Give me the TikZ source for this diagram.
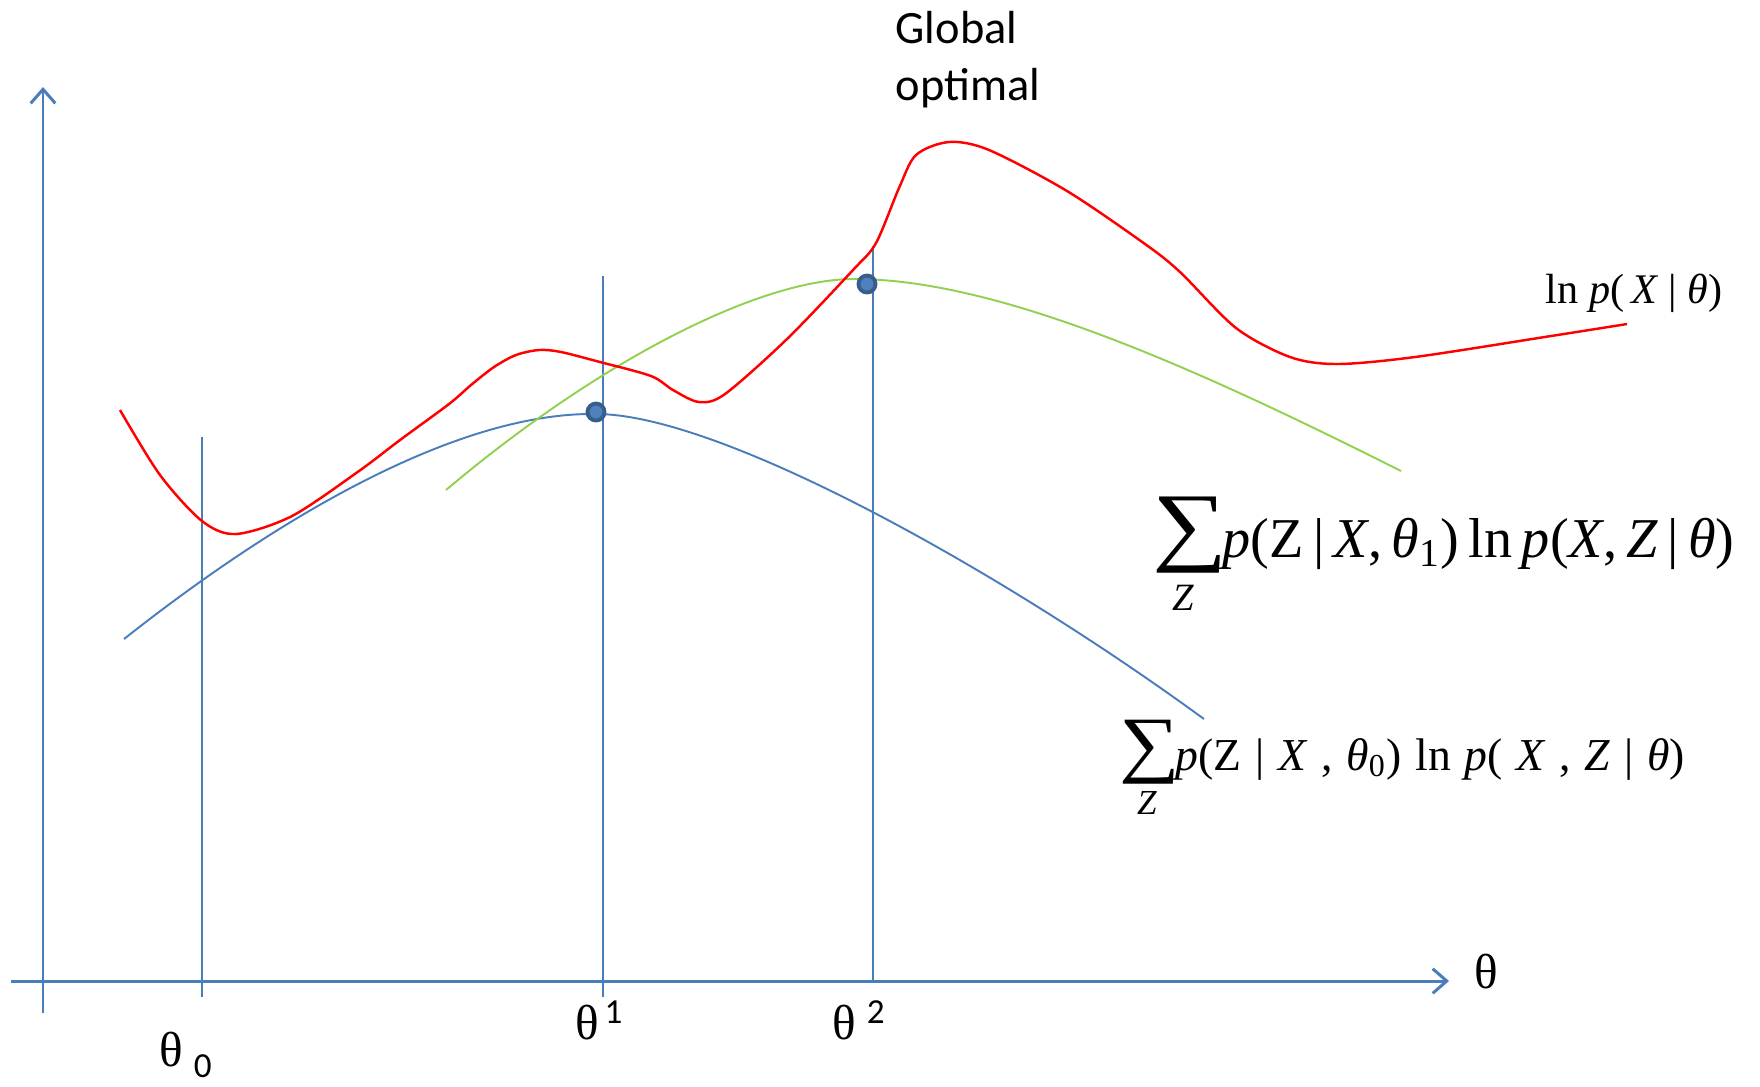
\documentclass[tikz,border=0pt]{standalone}
\usepackage{fontspec}
\setmainfont{Liberation Serif}
\newfontfamily\calibri{Carlito}
\usetikzlibrary{arrows.meta}
\definecolor{axisblue}{HTML}{4A7EBB}
\definecolor{dotblue}{HTML}{4F81BD}
\definecolor{dotedge}{HTML}{385D8A}
\definecolor{lemgreen}{HTML}{92D050}
\newcommand{\fsp}{\hspace{0.3em}}
\newcommand{\supfont}{\calibri\fontsize{10}{10}\selectfont}
\begin{document}
\begin{tikzpicture}[x=0.1mm,y=-0.1mm,
    axis/.style={axisblue,line width=0.85pt,-{Straight Barb[length=4pt,width=7pt]}},
    guide/.style={axisblue,line width=0.5pt},
    curve/.style={line width=0.55pt},
    optpoint/.style={circle,fill=dotblue,draw=dotedge,line width=1.1pt,minimum size=1.7mm,inner sep=0pt},
    lbl/.style={inner sep=0pt,anchor=base west,font=\fontsize{14}{14}\selectfont}]
    \useasboundingbox (0,0) rectangle (1760,1086);
    \coordinate (ybot) at (43,1013);
    \coordinate (ytop) at (43,87);
    \coordinate (xleft) at (11,981);
    \coordinate (xright) at (1449,981);
    \draw[axis] (ybot) -- (ytop);
    \draw[axis] (xleft) -- (xright);
    \draw[guide] (202,437) -- (202,997);
    \draw[guide] (603,276) -- (603,997);
    \draw[guide,line width=0.4pt] (873,246) -- (873,981);
    \draw[curve,axisblue] (124,639) .. controls (300,500) and (470,412) .. (596,414)
        .. controls (720,414) and (1000,570) .. (1204,719);
    \draw[curve,lemgreen] (446,490) .. controls (600,360) and (760,279) .. (854,279)
        .. controls (1000,279) and (1200,370) .. (1401,471);
    \draw[curve,red,line width=0.7pt] plot[smooth,tension=0.5] coordinates {(120,410) (160,475) (202,521) (236,534) (292,516) (359,471) (400,440) (449,404) (471,385) (494,367) (516,355) (539,350) (561,352) (600,362) (651,376) (673,390) (699,402) (725,394) (787,339) (853,270) (876,243) (899,188) (916,155) (949,142) (989,150) (1067,191) (1145,244) (1180,272) (1236,328) (1290,357) (1337,364) (1415,357) (1551,336) (1627,324)};
    \node[optpoint] (opt1) at (596,412) {};
    \node[optpoint] (opt2) at (867,284) {};
    \node[lbl,font=\calibri\fontsize{13.2}{16}\selectfont] (glob) at (895,43) {Global};
    \node[lbl,font=\calibri\fontsize{13.2}{16}\selectfont] (optim) at (895,100) {optimal};
    \node[lbl] (th0) at (159,1066) {θ\raisebox{-3.2pt}{\supfont\hspace{3pt}0}};
    \node[lbl] (th1) at (575,1039) {θ\raisebox{4.5pt}{\supfont\hspace{1.5pt}1}};
    \node[lbl] (th2) at (832,1039) {θ\raisebox{4.5pt}{\supfont\hspace{3pt}2}};
    \node[lbl] (thax) at (1474,988) {θ};
    \node[inner sep=0pt] (sum1) at (1190,535) {\fontsize{25}{25}\selectfont\scalebox{1.2}[1]{∑}};
    \node[inner sep=0pt] (zsub1) at (1183,598) {\fontsize{11}{11}\selectfont\itshape Z};
    \node[lbl] (lemma1) at (1222,557) {\fontsize{16}{16}\selectfont\textit{p}(Z\,|\,\textit{X},\,\textit{θ}\textsubscript{1})\,ln\,\textit{p}(\textit{X},\,\textit{Z}\,|\,\textit{θ})};
    \node[inner sep=0pt] (sum0) at (1150,752) {\fontsize{21}{21}\selectfont\scalebox{1.15}[1]{∑}};
    \node[inner sep=0pt] (zsub0) at (1147,803) {\fontsize{10}{10}\selectfont\itshape Z};
    \node[lbl] (lemma0) at (1175,770) {\fontsize{13}{13}\selectfont\textit{p}(Z\fsp|\fsp\textit{X}\fsp,\fsp\textit{θ}\textsubscript{0})\fsp ln\fsp\textit{p}(\fsp\textit{X}\fsp,\fsp\textit{Z}\fsp|\fsp\textit{θ})};
    \node[lbl] (loglik) at (1545,303) {\fontsize{12}{12}\selectfont ln \textit{p}(\,\textit{X} | \textit{θ})};
\end{tikzpicture}
\end{document}
